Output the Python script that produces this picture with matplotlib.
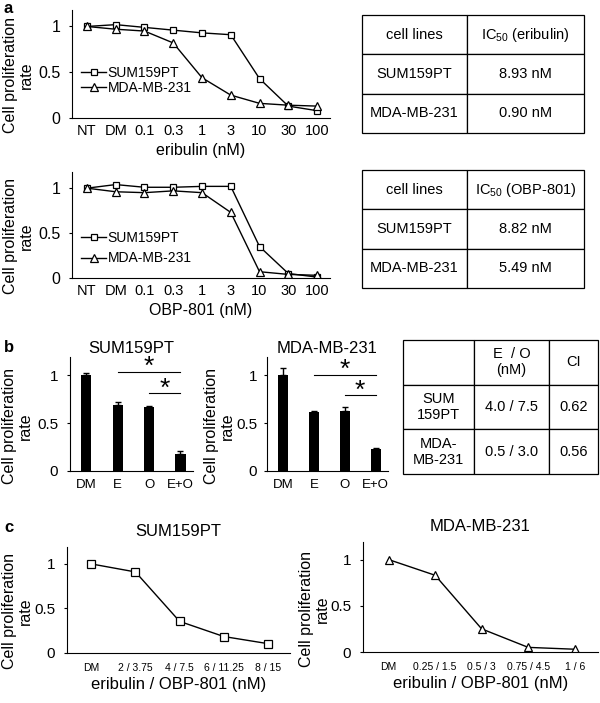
import matplotlib
matplotlib.use("Agg")
import matplotlib.pyplot as plt

plt.rcParams['font.family'] = ['Liberation Sans', 'DejaVu Sans']
plt.rcParams['mathtext.fontset'] = 'custom'
plt.rcParams['mathtext.rm'] = 'Liberation Sans'
plt.rcParams['mathtext.default'] = 'regular'

# ---- data ----
dose_labels = ['NT', 'DM', '0.1', '0.3', '1', '3', '10', '30', '100']
eri_sum = [1.00, 1.02, 0.99, 0.96, 0.93, 0.91, 0.43, 0.13, 0.08]
eri_mda = [1.00, 0.97, 0.95, 0.82, 0.44, 0.25, 0.16, 0.14, 0.13]
obp_sum = [1.00, 1.04, 1.01, 1.01, 1.02, 1.02, 0.35, 0.05, 0.01]
obp_mda = [1.00, 0.96, 0.95, 0.97, 0.95, 0.73, 0.07, 0.04, 0.03]

ic50_eri = [['cell lines', 'IC$_{50}$ (eribulin)'],
            ['SUM159PT', '8.93 nM'],
            ['MDA-MB-231', '0.90 nM']]
ic50_obp = [['cell lines', 'IC$_{50}$ (OBP-801)'],
            ['SUM159PT', '8.82 nM'],
            ['MDA-MB-231', '5.49 nM']]

bar_groups = ['DM', 'E', 'O', 'E+O']
bar_sum = [1.00, 0.69, 0.665, 0.18]
err_sum = [0.025, 0.03, 0.012, 0.03]
bar_mda = [1.00, 0.62, 0.63, 0.23]
err_mda = [0.07, 0.01, 0.04, 0.015]

ci_table = [['', 'E  / O\n(nM)', 'CI'],
            ['SUM\n159PT', '4.0 / 7.5', '0.62'],
            ['MDA-\nMB-231', '0.5 / 3.0', '0.56']]

combo_sum_labels = ['DM', '2 / 3.75', '4 / 7.5', '6 / 11.25', '8 / 15']
combo_sum = [1.00, 0.91, 0.355, 0.185, 0.105]
combo_mda_labels = ['DM', '0.25 / 1.5', '0.5 / 3', '0.75 / 4.5', '1 / 6']
combo_mda = [1.00, 0.83, 0.25, 0.05, 0.03]

W, H = 600, 703
fig = plt.figure(figsize=(W / 100, H / 100), dpi=100)
ylab = 'Cell proliferation\nrate'


def px_axes(left, top, right, bottom):
    return fig.add_axes([left / W, 1 - bottom / H, (right - left) / W, (bottom - top) / H])


def style(ax, ytick_fs=11, xtick_fs=10.5, xpad=4, ypad=6):
    for s in ['top', 'right']:
        ax.spines[s].set_visible(False)
    for s in ['left', 'bottom']:
        ax.spines[s].set_linewidth(0.8)
    ax.tick_params(axis='x', length=0, pad=xpad, labelsize=xtick_fs)
    ax.tick_params(axis='y', length=2.5, width=0.8, pad=ypad, labelsize=ytick_fs)
    ax.set_yticks([0, 0.5, 1])
    ax.set_yticklabels(['0', '0.5', '1'])


def set_ylab(ax, right_px, left_px, width_px, height_px, fs=11.5):
    # label is centred on the 0..1 data range (a little lower), not on the whole axis
    ax.set_ylabel(ylab, fontsize=fs, linespacing=1.05)
    ytop = ax.get_ylim()[1]
    ax.yaxis.set_label_coords((right_px - left_px) / width_px, 0.5 / ytop - 3 / height_px)


def sig(ax, x0, x1, y):
    ax.plot([x0, x1], [y, y], color='black', lw=0.8)
    ax.annotate('*', xy=((x0 + x1) / 2, y), xytext=(0, -1.5), textcoords='offset points',
                ha='center', va='baseline', fontsize=19)


def draw_table(left, top, right, bottom, rows, widths, fs=10.5):
    ax = px_axes(left, top, right, bottom)
    ax.axis('off')
    tbl = ax.table(cellText=rows, colWidths=widths, cellLoc='center', bbox=[0, 0, 1, 1])
    tbl.auto_set_font_size(False)
    tbl.set_fontsize(fs)
    for cell in tbl.get_celld().values():
        cell.set_linewidth(0.9)
    return ax


# ---- panel a: dose curves ----
x = list(range(len(dose_labels)))
for top, bottom, s_vals, m_vals, xlabel, leg_y, leg_sp in [
        (10, 118, eri_sum, eri_mda, 'eribulin (nM)', 0.347, 0.12),
        (172, 278, obp_sum, obp_mda, 'OBP-801 (nM)', 0.28, 0.45)]:
    ax = px_axes(72, top, 330, bottom)
    ax.plot(x, s_vals, color='black', lw=1, marker='s', ms=5, mfc='white', mec='black',
            mew=0.9, label='SUM159PT')
    ax.plot(x, m_vals, color='black', lw=1, marker='^', ms=5.5, mfc='white', mec='black',
            mew=0.9, label='MDA-MB-231')
    ax.set_xlim(-0.52, 8.45)
    ax.set_ylim(0, 1.18)
    style(ax, ytick_fs=11.5, xtick_fs=10.5)
    ax.set_xticks(x)
    ax.set_xticklabels(dose_labels)
    ax.set_xlabel(xlabel, fontsize=11.5, labelpad=4)
    set_ylab(ax, 34, 72, 258, bottom - top)
    ax.legend(loc='center left', bbox_to_anchor=(0.035, leg_y), frameon=False, fontsize=10,
              handlelength=1.8, handletextpad=0.1, borderpad=0, borderaxespad=0,
              labelspacing=leg_sp)

draw_table(362, 15, 584, 133, ic50_eri, [0.473, 0.527])
draw_table(362, 170, 584, 288, ic50_obp, [0.473, 0.527])

# ---- panel b: bar charts ----
xb = list(range(len(bar_groups)))
for left, right, ylab_px, ypad, vals, errs, title, sigs in [
        (70, 193, 33, 6, bar_sum, err_sum, 'SUM159PT', [(1, 3, 1.035), (2, 3, 0.81)]),
        (267, 388, 235, 4.5, bar_mda, err_mda, 'MDA-MB-231', [(1, 3, 1.0), (2, 3, 0.79)])]:
    ax = px_axes(left, 357, right, 471)
    ax.bar(xb, vals, width=0.33, color='black',
           yerr=[[0] * len(errs), errs], capsize=2.5,
           error_kw=dict(ecolor='black', elinewidth=1, capthick=1))
    ax.set_xlim(-0.52, 3.4)
    ax.set_ylim(0, 1.19)
    style(ax, ytick_fs=11, xtick_fs=9.5, xpad=6, ypad=ypad)
    ax.set_xticks(xb)
    ax.set_xticklabels(bar_groups)
    ax.set_title(title, fontsize=12, pad=3)
    set_ylab(ax, ylab_px, left, right - left, 114)
    for x0, x1, y in sigs:
        sig(ax, x0, x1, y)

draw_table(403, 340, 598, 474, ci_table, [0.364, 0.385, 0.251])

# ---- panel c: combination curves ----
for left, top, right, bottom, ylab_px, labels, vals, marker, title in [
        (67, 547, 290, 653, 33, combo_sum_labels, combo_sum, 's', 'SUM159PT'),
        (363, 542, 598, 652, 330, combo_mda_labels, combo_mda, '^', 'MDA-MB-231')]:
    ax = px_axes(left, top, right, bottom)
    xc = list(range(len(labels)))
    ax.plot(xc, vals, color='black', lw=1, marker=marker, ms=5.5, mfc='white',
            mec='black', mew=0.9)
    ax.set_xlim(-0.55, 4.5)
    ax.set_ylim(0, 1.19)
    style(ax, ytick_fs=11, xtick_fs=7.5, xpad=7)
    ax.set_xticks(xc)
    ax.set_xticklabels(labels)
    ax.set_xlabel('eribulin / OBP-801 (nM)', fontsize=12, labelpad=3)
    ax.set_title(title, fontsize=12, pad=8)
    set_ylab(ax, ylab_px, left, right - left, bottom - top)

# panel letters
for letter, ypx in [('a', 1), ('b', 340), ('c', 520)]:
    fig.text(4 / W, 1 - ypx / H, letter, fontsize=12, fontweight='bold', va='top', ha='left')

fig.savefig('out.png', dpi=100, facecolor='white')
